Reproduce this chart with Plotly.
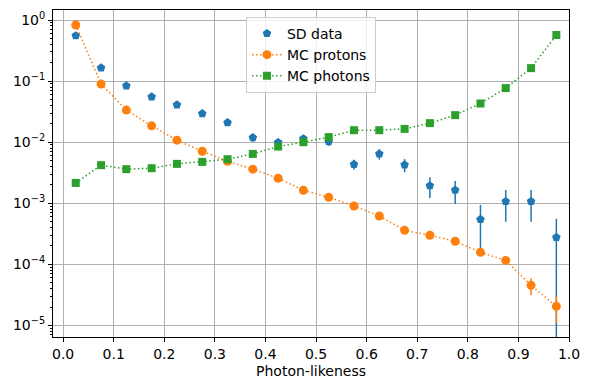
import plotly.graph_objects as go

# bin centres of the photon-likeness histogram
bins = [0.025, 0.075, 0.125, 0.175, 0.225, 0.275, 0.325, 0.375, 0.425, 0.475,
        0.525, 0.575, 0.625, 0.675, 0.725, 0.775, 0.825, 0.875, 0.925, 0.975]

# SD data
sd_vals = [0.553, 0.165, 0.0838, 0.0553, 0.0409, 0.0294, 0.0209, 0.0119, 0.0099, 0.0114,
           0.0102, 0.00434, 0.00643, 0.00425, 0.00194, 0.00164, 0.000546, 0.00107, 0.00107, 0.000277]
sd_errs = [0.011, 0.006, 0.0045, 0.0037, 0.0032, 0.0027, 0.0023, 0.0017, 0.0015, 0.0016,
           0.0015, 0.0008, 0.00125, 0.00103, 0.00072, 0.00067, 0.00039, 0.00057, 0.00057, 0.00028]

# MC protons
p_vals = [0.828, 0.0893, 0.0335, 0.0185, 0.0108, 0.00711, 0.00488, 0.00361, 0.00257, 0.00163,
          0.00125, 0.000903, 0.000619, 0.00036, 0.000299, 0.000238, 0.000157, 0.000116, 4.53e-05, 2.05e-05]
p_errs = [0.005, 0.0016, 0.001, 0.0007, 0.0005, 0.0004, 0.00035, 0.0003, 0.00022, 0.00015,
          0.00011, 0.00008, 0.00005, 0.00003, 0.000025, 0.00002, 0.000012, 0.000009, 1.4e-05, 0.95e-05]

# MC photons
g_vals = [0.00215, 0.0042, 0.00361, 0.00375, 0.00441, 0.00475, 0.00526, 0.00643, 0.00847, 0.0100,
          0.0121, 0.0157, 0.0157, 0.0165, 0.0205, 0.0277, 0.043, 0.0768, 0.163, 0.568]
g_errs = [0.0001, 0.00015, 0.00014, 0.00014, 0.00015, 0.00016, 0.00017, 0.00019, 0.00022, 0.00024,
          0.00026, 0.0003, 0.0003, 0.0003, 0.00034, 0.0004, 0.0005, 0.0007, 0.001, 0.002]

x_ticks = [0.0, 0.1, 0.2, 0.3, 0.4, 0.5, 0.6, 0.7, 0.8, 0.9, 1.0]
y_ticks = [1, 1e-1, 1e-2, 1e-3, 1e-4, 1e-5]
y_ticktext = ["10<sup>0</sup>", "10<sup>\u22121</sup>", "10<sup>\u22122</sup>",
              "10<sup>\u22123</sup>", "10<sup>\u22124</sup>", "10<sup>\u22125</sup>"]

blue, orange, green = "#1f77b4", "#ff7f0e", "#2ca02c"
font = "DejaVu Sans, Liberation Sans, sans-serif"

fig = go.Figure()

fig.add_trace(go.Scatter(x=bins, y=sd_vals, name="SD data", mode="markers",
                         marker=dict(symbol="pentagon", size=9, color=blue),
                         error_y=dict(type="data", array=sd_errs, color=blue,
                                      thickness=1.5, width=0)))

fig.add_trace(go.Scatter(x=bins, y=p_vals, name="MC protons", mode="lines+markers",
                         marker=dict(symbol="circle", size=9, color=orange),
                         line=dict(color=orange, width=1.5, dash="1.5px,2.5px"),
                         error_y=dict(type="data", array=p_errs, color=orange,
                                      thickness=1.5, width=0)))

fig.add_trace(go.Scatter(x=bins, y=g_vals, name="MC photons", mode="lines+markers",
                         marker=dict(symbol="square", size=8, color=green),
                         line=dict(color=green, width=1.5, dash="1.5px,2.5px"),
                         error_y=dict(type="data", array=g_errs, color=green,
                                      thickness=1.5, width=0)))

# minor ticks of the log axis
minor_vals = [m * 10 ** e for e in range(-6, 1) for m in range(2, 10)]

# page body has an 8px margin, so the figure is a bit smaller than the window
fig.update_layout(
    width=573, height=374,
    margin=dict(l=45, r=12, t=2, b=45),
    paper_bgcolor="white", plot_bgcolor="white",
    font=dict(family=font, size=14, color="black"),
    showlegend=True,
    legend=dict(x=0.374, y=0.979, xanchor="left", yanchor="top",
                bgcolor="rgba(255,255,255,0.8)", bordercolor="#cccccc", borderwidth=1,
                font=dict(size=14), tracegroupgap=0),
    xaxis=dict(range=[-0.02, 1.0], tickvals=x_ticks, tickformat=".1f",
               showgrid=True, gridcolor="#b0b0b0", gridwidth=0.8,
               showline=True, linecolor="black", linewidth=1, mirror=True,
               ticks="outside", ticklen=4, tickcolor="black", zeroline=False,
               title=dict(text="Photon-likeness", standoff=5, font=dict(size=14))),
    yaxis=dict(type="log", range=[-5.19, 0.164], tickvals=y_ticks, ticktext=y_ticktext,
               showgrid=True, gridcolor="#b0b0b0", gridwidth=0.8,
               showline=True, linecolor="black", linewidth=1, mirror=True,
               ticks="outside", ticklen=4, tickcolor="black", zeroline=False,
               minor=dict(tickvals=minor_vals, ticks="outside", ticklen=2,
                          tickcolor="black", showgrid=False)),
)

fig.write_html("out.html")
